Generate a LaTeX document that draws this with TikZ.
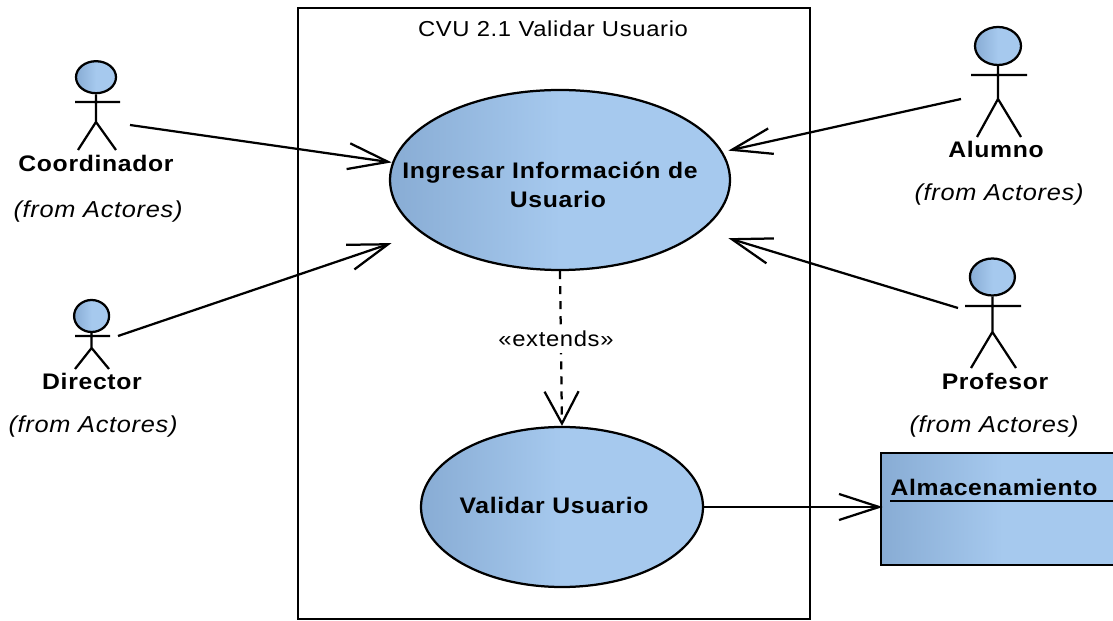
\documentclass[tikz,border=0pt]{standalone}
\usepackage{fontspec}
\setmainfont{Liberation Sans}[LetterSpace=3,FakeStretch=1.1]
\usepackage{xcolor}
\usetikzlibrary{arrows.meta,positioning,calc,shapes.geometric}
\definecolor{umldark}{RGB}{136,172,212}
\definecolor{umllight}{RGB}{166,201,238}

\tikzset{
  shaded/.style={draw, line width=1.6pt, left color=umldark, right color=umllight, middle color=umllight},
  usecase/.style={shaded, ellipse, inner sep=0pt},
  head/.style={shaded, ellipse, inner sep=0pt},
  stick/.style={line width=1.6pt},
  assoc/.style={line width=1.6pt, shorten >=-2pt, -{Straight Barb[length=1cm,width=0.65cm]}},
  extend/.style={line width=1.6pt, dash pattern=on 5.7pt off 5pt, -{Straight Barb[length=0.8cm,width=0.85cm]}},
  bold/.style={inner sep=0pt, align=center, font=\fontsize{16}{20.6}\selectfont\bfseries},
  plain/.style={inner sep=0pt, font=\fontsize{15.4}{19}\selectfont},
  from/.style={inner sep=0pt, font=\fontsize{16.4}{20}\selectfont\itshape}
}

\begin{document}
\begin{tikzpicture}
\useasboundingbox (0,0) rectangle (27.825,15.5);

% System boundary
\node[draw, line width=1.6pt, minimum width=12.8cm, minimum height=15.275cm] (system) at (13.85,7.66) {};
\node[plain] (title) at (13.825,14.775) {CVU 2.1 Validar Usuario};

% Use cases
\node[usecase, minimum width=8.5cm, minimum height=4.5cm] (ingresar) at (14,11) {};
\node[bold] (ingresarTxt) at (13.95,10.875) {Ingresar Información de\hspace*{0.4cm}\\Usuario};
\node[usecase, minimum width=7.05cm, minimum height=4cm] (validar) at (14.05,2.825) {};
\node[bold] (validarTxt) at (13.85,2.875) {Validar Usuario};

% Storage class
\node[shaded, minimum width=6.1cm, minimum height=2.8cm] (almacen) at (25.075,2.775) {};
\node[bold] (almacenTxt) at (24.85,3.325) {Almacenamiento};
\coordinate (almacenLine) at (22.25,2.975);
\draw[stick] (almacenLine) -- (almacenLine -| almacen.east);

% Coordinador
\node[head, minimum width=1cm, minimum height=0.8cm] (coordHead) at (2.4,13.57) {};
\draw[stick] (coordHead.south) -- (2.4,12.45) -- (1.95,11.75) (2.4,12.45) -- (2.9,11.75) (1.875,12.95) -- (3,12.95);
\node[bold] (coordTxt) at (2.4,11.425) {Coordinador};
\node[from] (coordFrom) at (2.45,10.2) {(from Actores)};
\coordinate (coordOut) at (3.25,12.375);

% Director
\node[head, minimum width=0.875cm, minimum height=0.8cm] (dirHead) at (2.29,7.6) {};
\draw[stick] (dirHead.south) -- (2.29,6.8) -- (1.875,6.275) (2.29,6.8) -- (2.725,6.275) (1.875,7.1) -- (2.75,7.1);
\node[bold] (dirTxt) at (2.3,5.975) {Director};
\node[from] (dirFrom) at (2.325,4.825) {(from Actores)};
\coordinate (dirOut) at (2.95,7.1);

% Alumno
\node[head, minimum width=1.15cm, minimum height=0.95cm] (alumHead) at (24.95,14.35) {};
\draw[stick] (alumHead.south) -- (24.95,13.025) -- (24.425,12.075) (24.95,13.025) -- (25.525,12.075) (24.275,13.625) -- (25.675,13.625);
\node[bold] (alumTxt) at (24.9,11.775) {Alumno};
\node[from] (alumFrom) at (24.975,10.625) {(from Actores)};
\coordinate (alumOut) at (24.025,13.025);

% Profesor
\node[head, minimum width=1.125cm, minimum height=0.925cm] (profHead) at (24.81,8.575) {};
\draw[stick] (profHead.south) -- (24.81,7.2) -- (24.275,6.3) (24.81,7.2) -- (25.4,6.3) (24.125,7.85) -- (25.525,7.85);
\node[bold] (profTxt) at (24.875,5.975) {Profesor};
\node[from] (profFrom) at (24.85,4.825) {(from Actores)};
\coordinate (profOut) at (23.95,7.8);

% Associations
\draw[assoc] (coordOut) -- ($(ingresar.west)+(0,0.45)$);
\draw[assoc] (dirOut) -- ($(ingresar.west)+(0,-1.6)$);
\draw[assoc] (alumOut) -- ($(ingresar.east)+(0,0.75)$);
\draw[assoc] (profOut) -- ($(ingresar.east)+(0,-1.475)$);
\draw[assoc] (validar.east) -- (validar.east -| almacen.west);

% Extension
\draw[extend] (ingresar.south) -- (validar.north);
\node[plain, fill=white, inner xsep=2pt, inner ysep=4pt] (extends) at (13.9,7.025) {«extends»};
\end{tikzpicture}
\end{document}
